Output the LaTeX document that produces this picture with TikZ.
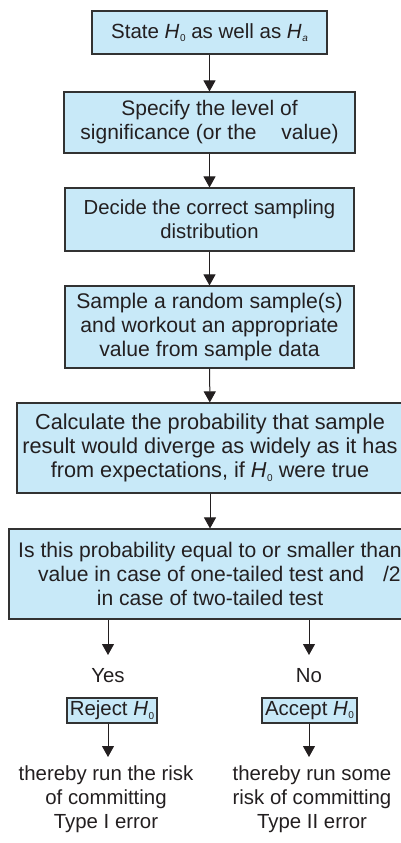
\documentclass[tikz,border=0pt]{standalone}
\usepackage{fontspec}
\setmainfont{Liberation Sans}
\usetikzlibrary{arrows.meta}
\definecolor{boxfill}{RGB}{200,233,248}
\definecolor{boxline}{RGB}{50,50,50}
\definecolor{txt}{RGB}{35,31,32}
\newcommand{\Hsb}[1]{\textit{H}\kern0.5pt\raisebox{-0.3ex}{\fontsize{10}{10}\selectfont #1}}
\newcommand{\fs}[1]{\fontsize{#1}{24}\selectfont}
\tikzset{
  x=1pt,y=1pt,
  flowbox/.style={draw=boxline,line width=1.1pt,fill=boxfill,text=txt,align=center,inner sep=0pt,
    font=\fontsize{20}{24}\selectfont},
  plain/.style={text=txt,align=center,inner sep=0pt,font=\fontsize{20.4}{24}\selectfont},
  flowarrow/.style={draw=txt,line width=1pt,-{Triangle[width=12pt,length=11pt]}}
}
\begin{document}
\begin{tikzpicture}
\useasboundingbox (0,0) rectangle (401,-843);
\clip (0,0) rectangle (401,-843);
\node[flowbox,minimum width=235pt,minimum height=43pt,font=\fs{20.5}] (b1) at (209.5,-32.5) {State \Hsb{0} as well as \Hsb{\textit{a}}};
\node[flowbox,minimum width=291pt,minimum height=61pt,font=\fs{21}] (b2) at (209.5,-122.5) {Specify the level of\\significance (or the \phantom{$\alpha$}\ value)};
\node[flowbox,minimum width=289pt,minimum height=63pt,font=\fs{20.3}] (b3) at (209.5,-219.5) {Decide the correct sampling\\distribution};
\node[flowbox,minimum width=289pt,minimum height=82pt,font=\fs{21.2}] (b4) at (209.5,-327) {Sample a random sample(s)\\and workout an appropriate\\value from sample data};
\node[flowbox,minimum width=386pt,minimum height=90pt,font=\fs{21.7}] (b5) at (210,-448) {Calculate the probability that sample\\result would diverge as widely as it has\\from expectations, if \Hsb{0} were true};
\node[flowbox,minimum width=402pt,minimum height=90pt,font=\fs{21.1}] (b6) at (210,-574) {Is this probability equal to or smaller than\\\phantom{$\alpha$}\ value in case of one-tailed test and \phantom{$\alpha$}/2\\in case of two-tailed test};
\draw[flowarrow] (b1) -- (b2);
\draw[flowarrow] (b2) -- (b3);
\draw[flowarrow] (b3) -- (b4);
\draw[flowarrow] (b4) -- (b5);
\draw[flowarrow] (b5) -- (b6);
\coordinate (yt) at (108,-655);
\coordinate (nt) at (309,-655);
\draw[flowarrow] (b6.south -| yt) -- (yt);
\draw[flowarrow] (b6.south -| nt) -- (nt);
\node[plain] (yes) at (108,-676) {Yes};
\node[plain] (no) at (309,-676) {No};
\node[flowbox,minimum width=90pt,minimum height=25pt,font=\fs{20.4}] (rej) at (112,-710.5) {Reject \Hsb{0}};
\node[flowbox,minimum width=95pt,minimum height=25pt,font=\fs{20.4}] (acc) at (309.5,-710.5) {Accept \Hsb{0}};
\coordinate (ry) at (108,-757);
\coordinate (ay) at (309,-757);
\draw[flowarrow] (rej.south -| ry) -- (ry);
\draw[flowarrow] (acc.south -| ay) -- (ay);
\node[plain,anchor=north] (rt) at (106,-766) {thereby run the risk\\of committing\\Type I error};
\node[plain,anchor=north] (at) at (312,-766) {thereby run some\\risk of committing\\Type II error};
\end{tikzpicture}
\end{document}
